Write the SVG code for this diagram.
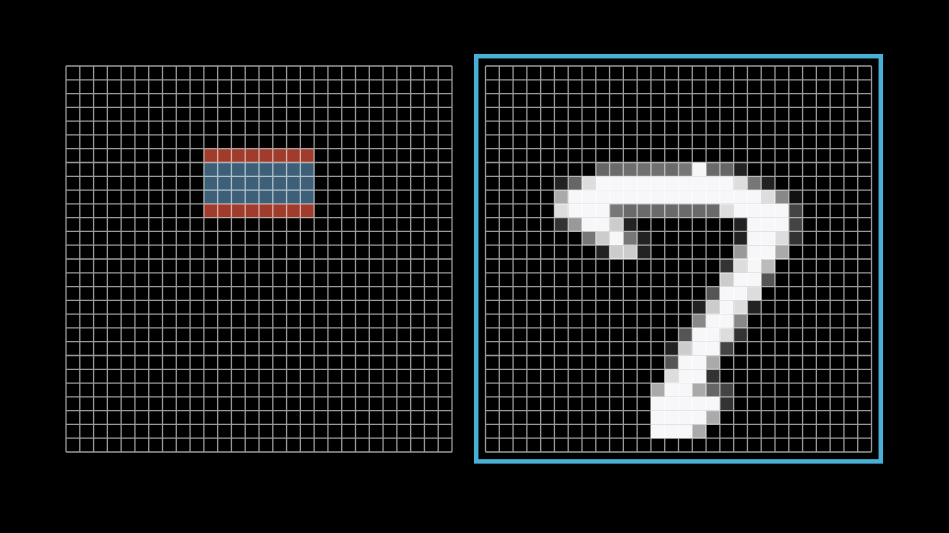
<svg xmlns="http://www.w3.org/2000/svg" xmlns:xlink="http://www.w3.org/1999/xlink" width="949" height="533" viewBox="0 0 949 533">
<style>
.gl{fill:none;stroke:#ffffff;stroke-opacity:0.6;stroke-width:1.3}
.w{fill:#f7f7fa}
.frame{fill:none;stroke:#4aafd6;stroke-width:4.5}
</style>
<defs>
<path id="grid" class="gl" d="M0 0V386M13.79 0V386M27.57 0V386M41.36 0V386M55.14 0V386M68.93 0V386M82.71 0V386M96.5 0V386M110.29 0V386M124.07 0V386M137.86 0V386M151.64 0V386M165.43 0V386M179.21 0V386M193 0V386M206.79 0V386M220.57 0V386M234.36 0V386M248.14 0V386M261.93 0V386M275.71 0V386M289.5 0V386M303.29 0V386M317.07 0V386M330.86 0V386M344.64 0V386M358.43 0V386M372.21 0V386M386 0V386M0 0H386M0 13.79H386M0 27.57H386M0 41.36H386M0 55.14H386M0 68.93H386M0 82.71H386M0 96.5H386M0 110.29H386M0 124.07H386M0 137.86H386M0 151.64H386M0 165.43H386M0 179.21H386M0 193H386M0 206.79H386M0 220.57H386M0 234.36H386M0 248.14H386M0 261.93H386M0 275.71H386M0 289.5H386M0 303.29H386M0 317.07H386M0 330.86H386M0 344.64H386M0 358.43H386M0 372.21H386M0 386H386"/>
</defs>
<rect x="0" y="0" width="949" height="533" fill="#000000"/>
<g id="left-grid">
<g transform="translate(66 66) scale(13.7857)">
<rect x="10" y="6" width="8" height="1" fill="#a03c2c"/>
<rect x="10" y="7" width="8" height="3" fill="#3e5f78"/>
<rect x="10" y="10" width="8" height="1" fill="#a03c2c"/>
</g>
<use xlink:href="#grid" transform="translate(66 66)"/>
</g>
<g id="right-grid">
<g transform="translate(485.5 66) scale(13.7857)">
<!-- row 7 -->
<rect x="8" y="7" width="1" height="1" fill="#666"/>
<rect x="9" y="7" width="1" height="1" fill="#6a6a6a"/>
<rect x="10" y="7" width="1" height="1" fill="#6e6e6e"/>
<rect x="11" y="7" width="2" height="1" fill="#707070"/>
<rect x="13" y="7" width="1" height="1" fill="#6a6a6a"/>
<rect x="14" y="7" width="1" height="1" fill="#777"/>
<rect x="15" y="7" width="1" height="1" class="w"/>
<rect x="16" y="7" width="1" height="1" fill="#6a6a6a"/>
<rect x="17" y="7" width="1" height="1" fill="#666"/>
<rect x="18" y="7" width="1" height="1" fill="#222"/>
<!-- row 8 -->
<rect x="5" y="8" width="1" height="1" fill="#222"/>
<rect x="6" y="8" width="1" height="1" fill="#666"/>
<rect x="7" y="8" width="1" height="1" fill="#ddd"/>
<rect x="8" y="8" width="10" height="1" class="w"/>
<rect x="18" y="8" width="1" height="1" fill="#ddd"/>
<rect x="19" y="8" width="1" height="1" fill="#777"/>
<rect x="20" y="8" width="1" height="1" fill="#222"/>
<!-- row 9 -->
<rect x="5" y="9" width="1" height="1" fill="#aaa"/>
<rect x="6" y="9" width="14" height="1" class="w"/>
<rect x="20" y="9" width="1" height="1" fill="#ddd"/>
<rect x="21" y="9" width="1" height="1" fill="#888"/>
<rect x="22" y="9" width="1" height="1" fill="#111"/>
<!-- row 10 -->
<rect x="5" y="10" width="1" height="1" fill="#ddd"/>
<rect x="6" y="10" width="3" height="1" class="w"/>
<rect x="9" y="10" width="1" height="1" fill="#777"/>
<rect x="10" y="10" width="7" height="1" fill="#6a6a6a"/>
<rect x="17" y="10" width="1" height="1" fill="#ddd"/>
<rect x="18" y="10" width="4" height="1" class="w"/>
<rect x="22" y="10" width="1" height="1" fill="#444"/>
<!-- row 11 -->
<rect x="5" y="11" width="1" height="1" fill="#333"/>
<rect x="6" y="11" width="1" height="1" fill="#999"/>
<rect x="7" y="11" width="2" height="1" class="w"/>
<rect x="9" y="11" width="1" height="1" fill="#ccc"/>
<rect x="10" y="11" width="1" height="1" fill="#222"/>
<rect x="18" y="11" width="1" height="1" fill="#222"/>
<rect x="19" y="11" width="3" height="1" class="w"/>
<rect x="22" y="11" width="1" height="1" fill="#444"/>
<!-- row 12 -->
<rect x="7" y="12" width="1" height="1" fill="#777"/>
<rect x="8" y="12" width="1" height="1" fill="#ccc"/>
<rect x="9" y="12" width="1" height="1" class="w"/>
<rect x="10" y="12" width="1" height="1" fill="#777"/>
<rect x="11" y="12" width="1" height="1" fill="#222"/>
<rect x="18" y="12" width="1" height="1" fill="#222"/>
<rect x="19" y="12" width="2" height="1" class="w"/>
<rect x="21" y="12" width="1" height="1" fill="#ddd"/>
<rect x="22" y="12" width="1" height="1" fill="#333"/>
<!-- row 13 -->
<rect x="8" y="13" width="1" height="1" fill="#222"/>
<rect x="9" y="13" width="2" height="1" fill="#ccc"/>
<rect x="11" y="13" width="1" height="1" fill="#222"/>
<rect x="18" y="13" width="1" height="1" fill="#999"/>
<rect x="19" y="13" width="2" height="1" class="w"/>
<rect x="21" y="13" width="1" height="1" fill="#aaa"/>
<!-- row 14 -->
<rect x="17" y="14" width="1" height="1" fill="#333"/>
<rect x="18" y="14" width="1" height="1" fill="#ddd"/>
<rect x="19" y="14" width="1" height="1" class="w"/>
<rect x="20" y="14" width="1" height="1" fill="#bbb"/>
<!-- row 15 -->
<rect x="17" y="15" width="1" height="1" fill="#ccc"/>
<rect x="18" y="15" width="2" height="1" class="w"/>
<rect x="20" y="15" width="1" height="1" fill="#555"/>
<!-- row 16 -->
<rect x="16" y="16" width="1" height="1" fill="#555"/>
<rect x="17" y="16" width="2" height="1" class="w"/>
<rect x="19" y="16" width="1" height="1" fill="#ddd"/>
<!-- row 17 -->
<rect x="15" y="17" width="1" height="1" fill="#222"/>
<rect x="16" y="17" width="1" height="1" fill="#ccc"/>
<rect x="17" y="17" width="1" height="1" class="w"/>
<rect x="18" y="17" width="1" height="1" fill="#ddd"/>
<rect x="19" y="17" width="1" height="1" fill="#222"/>
<!-- row 18 -->
<rect x="15" y="18" width="1" height="1" fill="#888"/>
<rect x="16" y="18" width="2" height="1" class="w"/>
<rect x="18" y="18" width="1" height="1" fill="#888"/>
<!-- row 19 -->
<rect x="14" y="19" width="1" height="1" fill="#555"/>
<rect x="15" y="19" width="2" height="1" class="w"/>
<rect x="17" y="19" width="1" height="1" fill="#ddd"/>
<rect x="18" y="19" width="1" height="1" fill="#333"/>
<!-- row 20 -->
<rect x="13" y="20" width="1" height="1" fill="#222"/>
<rect x="14" y="20" width="1" height="1" fill="#ccc"/>
<rect x="15" y="20" width="2" height="1" class="w"/>
<rect x="17" y="20" width="1" height="1" fill="#444"/>
<!-- row 21 -->
<rect x="13" y="21" width="1" height="1" fill="#555"/>
<rect x="14" y="21" width="2" height="1" class="w"/>
<rect x="16" y="21" width="1" height="1" fill="#aaa"/>
<!-- row 22 -->
<rect x="13" y="22" width="1" height="1" fill="#ddd"/>
<rect x="14" y="22" width="2" height="1" class="w"/>
<rect x="16" y="22" width="1" height="1" fill="#333"/>
<!-- row 23 -->
<rect x="12" y="23" width="1" height="1" fill="#aaa"/>
<rect x="13" y="23" width="2" height="1" class="w"/>
<rect x="15" y="23" width="1" height="1" fill="#aaa"/>
<rect x="16" y="23" width="1" height="1" fill="#666"/>
<rect x="17" y="23" width="1" height="1" fill="#444"/>
<!-- row 24 -->
<rect x="12" y="24" width="5" height="1" class="w"/>
<rect x="17" y="24" width="1" height="1" fill="#333"/>
<!-- row 25 -->
<rect x="12" y="25" width="4" height="1" class="w"/>
<rect x="16" y="25" width="1" height="1" fill="#aaa"/>
<!-- row 26 -->
<rect x="12" y="26" width="3" height="1" class="w"/>
<rect x="15" y="26" width="1" height="1" fill="#aaa"/>
</g>
<use xlink:href="#grid" transform="translate(485.5 66)"/>
<rect class="frame" x="476.2" y="56.2" width="404.6" height="405.2"/>
</g>
</svg>
